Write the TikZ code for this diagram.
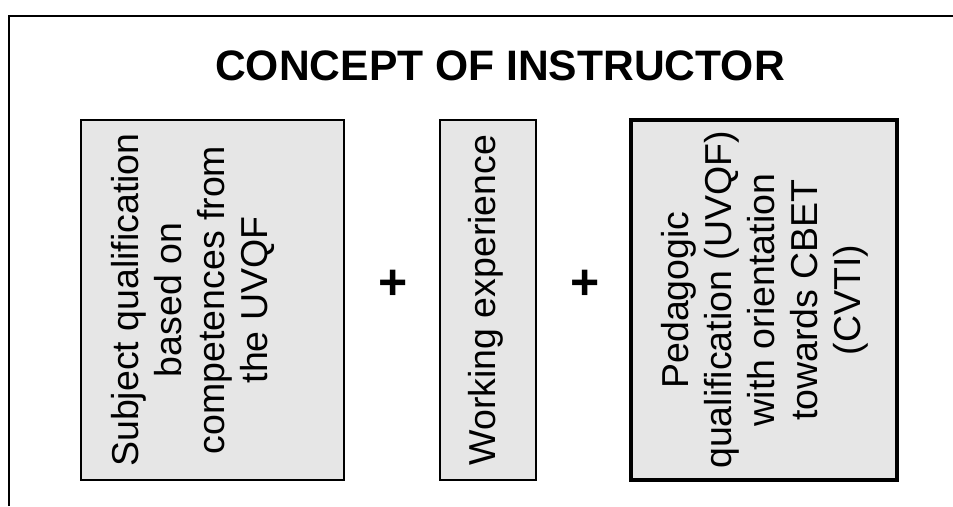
\documentclass[tikz,border=0pt]{standalone}
\usepackage{fontspec}
\setmainfont{Liberation Sans}
\begin{document}
\begin{tikzpicture}[x=1pt,y=-1pt,
  box/.style={draw=black, fill=boxgray, line width=1.3pt, rotate=90, inner sep=0pt},
  boldbox/.style={box, line width=3.6pt},
  body/.style={rotate=90, align=center, inner sep=0pt, font=\fontsize{37.5}{43}\selectfont},
  plus/.style={inner sep=0pt, font=\fontsize{50}{55}\selectfont\bfseries}]
\definecolor{boxgray}{HTML}{E6E6E6}
\useasboundingbox (0,0) rectangle (953,506);
% outer frame, open towards the right and bottom
\coordinate (frameTL) at (9,16);
\coordinate (frameTR) at (953,16);
\coordinate (frameBL) at (9,506);
\draw[line width=2pt] (frameBL) -- (frameTL) -- (frameTR);
% heading
\node[inner sep=0pt, font=\fontsize{42.6}{48}\selectfont\bfseries, anchor=base] (title) at (500,80) {CONCEPT OF INSTRUCTOR};
% three component boxes
\node[box, minimum width=360pt, minimum height=263pt] (subject) at (212.5,300) {};
\node[box, minimum width=360pt, minimum height=96pt] (work) at (488,300) {};
\node[boldbox, minimum width=360pt, minimum height=266pt] (pedagogic) at (764,300) {};
% box texts
\node[body] (subjectText) at (193,300) {Subject qualification\\based on\\competences from\\the UVQF};
\node[body] (workText) at (486,300) {Working experience};
\node[body] (pedagogicText) at (765,300) {Pedagogic\\qualification (UVQF)\\with orientation\\towards CBET\\(CVTI)};
% plus signs between the boxes
\node[plus] (plusA) at (393,285) {+};
\node[plus] (plusB) at (585,285) {+};
\end{tikzpicture}
\end{document}
